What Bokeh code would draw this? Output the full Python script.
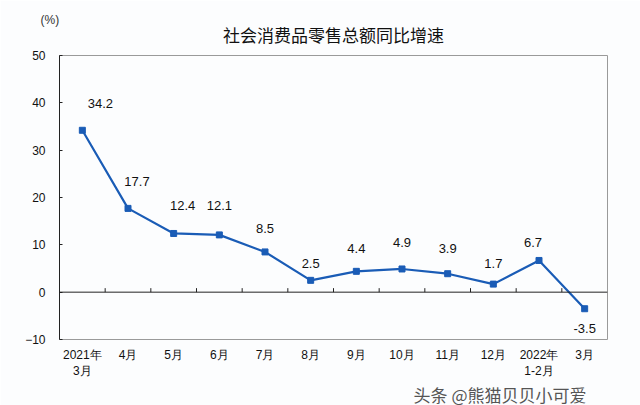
from bokeh.plotting import figure
from bokeh.models import FixedTicker, Range1d, Span, Title, ColumnDataSource
from bokeh.core.properties import value
from bokeh.embed import file_html
from bokeh.resources import INLINE

months = ["2021年\n3月", "4月", "5月", "6月", "7月", "8月", "9月", "10月", "11月", "12月", "2022年\n1-2月", "3月"]
growth = [34.2, 17.7, 12.4, 12.1, 8.5, 2.5, 4.4, 4.9, 3.9, 1.7, 6.7, -3.5]
y_ticks = [-10, 0, 10, 20, 30, 40, 50]
title_text = "社会消费品零售总额同比增速"
unit_text = "(%)"
watermark = "头条 @熊猫贝贝小可爱"

# label offsets in screen pixels (layout only)
label_dx = [18, 9, 9, 0, 0, 0, 0, 0, 0, 0, -6, 0]
label_dy = [27, 27, 28, 29, 23, 17, 23, 26, 25, 21, 18, -20]

n = len(months)
xs = [i + 0.5 for i in range(n)]
blue = "#1a5cb6"
font = "Liberation Sans"

p = figure(width=640, height=405, output_backend="svg", toolbar_location=None,
           x_range=Range1d(0, n), y_range=Range1d(-10, 50),
           min_border_left=59, min_border_right=33, min_border_top=55, min_border_bottom=66,
           background_fill_color="#fcfdfe", border_fill_color="#fcfdfe")
p.grid.visible = False
p.outline_line_color = "#9a9a9a"
p.outline_line_width = 1

# y axis
p.yaxis.ticker = FixedTicker(ticks=y_ticks)
p.yaxis.axis_line_color = "#222222"
p.yaxis.major_tick_in = 3
p.yaxis.major_tick_out = 0
p.yaxis.minor_tick_line_color = None
p.yaxis.major_tick_line_color = "#222222"
p.yaxis.major_label_standoff = 14
p.yaxis.major_label_text_font = font
p.yaxis.major_label_text_font_size = "12px"
p.yaxis.major_label_text_color = "#111111"

# x axis: labels only at the bottom
p.xaxis.ticker = FixedTicker(ticks=xs)
p.xaxis.major_label_overrides = {x: m for x, m in zip(xs, months)}
p.xaxis.axis_line_color = None
p.xaxis.major_tick_line_color = None
p.xaxis.minor_tick_line_color = None
p.xaxis.major_tick_in = 0
p.xaxis.major_tick_out = 0
p.xaxis.major_label_standoff = 8
p.xaxis.major_label_text_font = font
p.xaxis.major_label_text_font_size = "12px"
p.xaxis.major_label_text_color = "#111111"
p.xaxis.major_label_text_line_height = 1.2

# zero line with upward ticks at category boundaries
p.add_layout(Span(location=0, dimension="width", line_color="#222222", line_width=1))
bounds = list(range(1, n))
p.segment(x0=bounds, y0=[0] * len(bounds), x1=bounds, y1=[0.85] * len(bounds),
          line_color="#222222", line_width=1)

src = ColumnDataSource(dict(x=xs, y=growth, lab=[f"{v:.1f}" for v in growth],
                            dx=label_dx, dy=[-d for d in label_dy]))
p.line("x", "y", source=src, line_color=blue, line_width=2.2)
p.scatter("x", "y", source=src, marker="square", size=6, fill_color=blue, line_color=blue)
p.text("x", "y", text="lab", source=src, x_offset="dx", y_offset="dy",
       text_align="center", text_baseline="middle",
       text_font=value(font), text_font_size="13px", text_color="#111111")

# title, unit and watermark as Title annotations in side panels
p.add_layout(Title(text=title_text, align="center", offset=14, standoff=17,
                   text_font="Noto Sans CJK SC", text_font_size="17px",
                   text_font_style="normal", text_color="#111111"), "above")
p.add_layout(Title(text=unit_text, align="left", offset=-19, standoff=-30,
                   text_font=font, text_font_size="12px",
                   text_font_style="normal", text_color="#333333"), "above")
p.add_layout(Title(text=watermark, align="right", offset=21, standoff=-4,
                   text_font="Noto Sans CJK SC", text_font_size="17px",
                   text_font_style="normal", text_color="#555555"), "below")

open("out.html", "w").write(file_html(p, INLINE))
